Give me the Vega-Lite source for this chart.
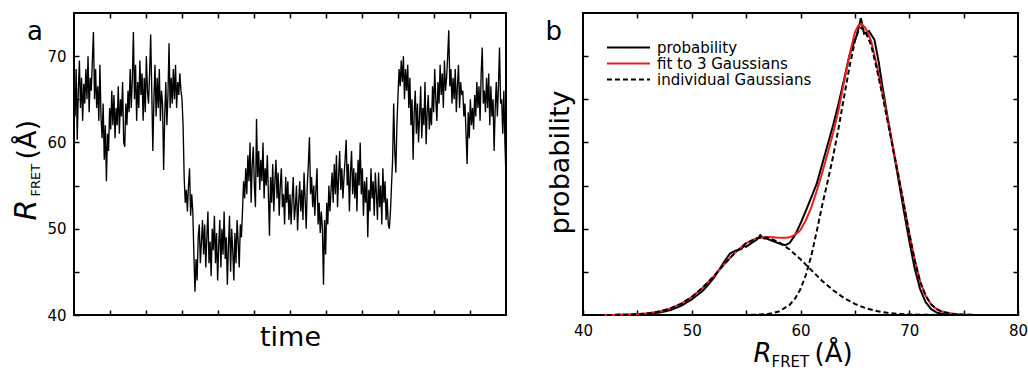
{
"$schema": "https://vega.github.io/schema/vega-lite/v6.json",
"padding": {"left": 10, "top": 11, "right": 0, "bottom": 0},
"bounds": "flush",
"spacing": 77,
"resolve": {"legend": {"color": "independent", "strokeDash": "independent"}},
"datasets": {
"trace": [
{"t":0,"r":65.5},{"t":3,"r":63},{"t":6,"r":68.5},{"t":9,"r":60.3},{"t":12,"r":66},{"t":15,"r":69.5},{"t":18,"r":64},{"t":21,"r":67.5},{"t":24,"r":62.5},{"t":27,"r":66.8},
{"t":30,"r":64.5},{"t":33,"r":68.5},{"t":36,"r":65},{"t":39,"r":70},{"t":42,"r":63.5},{"t":45,"r":67.5},{"t":48,"r":66},{"t":51,"r":69.5},{"t":54,"r":72.8},{"t":57,"r":65},
{"t":60,"r":68.5},{"t":63,"r":64},{"t":66,"r":66.5},{"t":69,"r":62.5},{"t":72,"r":69},{"t":75,"r":63},{"t":78,"r":60.5},{"t":81,"r":64.5},{"t":84,"r":58},{"t":87,"r":62},
{"t":90,"r":55.5},{"t":93,"r":61},{"t":96,"r":59},{"t":99,"r":64},{"t":102,"r":61.5},{"t":105,"r":66},{"t":108,"r":62},{"t":111,"r":65.5},{"t":114,"r":60.5},{"t":117,"r":64},
{"t":120,"r":62},{"t":123,"r":66.5},{"t":126,"r":61},{"t":129,"r":65},{"t":132,"r":63},{"t":135,"r":67},{"t":138,"r":60},{"t":141,"r":59.5},{"t":144,"r":64.5},{"t":147,"r":62},
{"t":150,"r":66},{"t":153,"r":63.5},{"t":156,"r":68.5},{"t":159,"r":64},{"t":162,"r":67.5},{"t":165,"r":72.8},{"t":168,"r":65},{"t":171,"r":69},{"t":174,"r":62.5},{"t":177,"r":67},
{"t":180,"r":64},{"t":183,"r":69.5},{"t":186,"r":65.5},{"t":189,"r":68},{"t":192,"r":62.5},{"t":195,"r":67.5},{"t":198,"r":63.5},{"t":201,"r":70},{"t":204,"r":66},{"t":207,"r":64.5},
{"t":210,"r":68},{"t":213,"r":72.5},{"t":216,"r":66},{"t":219,"r":59},{"t":222,"r":65},{"t":225,"r":69},{"t":228,"r":63},{"t":231,"r":67.5},{"t":234,"r":64},{"t":237,"r":68.5},
{"t":240,"r":62.5},{"t":243,"r":66},{"t":246,"r":64.5},{"t":249,"r":56.8},{"t":252,"r":63},{"t":255,"r":67},{"t":258,"r":62},{"t":261,"r":65.5},{"t":264,"r":71.5},{"t":267,"r":64},
{"t":270,"r":67.5},{"t":273,"r":64.5},{"t":276,"r":68.5},{"t":279,"r":65},{"t":282,"r":69},{"t":285,"r":64},{"t":288,"r":67},{"t":291,"r":65.5},{"t":294,"r":68},{"t":297,"r":66},
{"t":300,"r":65},{"t":303,"r":62},{"t":306,"r":56},{"t":309,"r":53},{"t":312,"r":54.5},{"t":315,"r":52},{"t":318,"r":55},{"t":321,"r":57},{"t":324,"r":51.5},{"t":327,"r":54},
{"t":330,"r":52},{"t":333,"r":47},{"t":336,"r":42.7},{"t":339,"r":46.5},{"t":342,"r":44},{"t":345,"r":49},{"t":348,"r":50.5},{"t":351,"r":46},{"t":354,"r":48.5},{"t":357,"r":51},
{"t":360,"r":47},{"t":363,"r":50.5},{"t":366,"r":45.5},{"t":369,"r":49},{"t":372,"r":52},{"t":375,"r":46},{"t":378,"r":48.5},{"t":381,"r":44.5},{"t":384,"r":50},{"t":387,"r":47.5},
{"t":390,"r":51.5},{"t":393,"r":46},{"t":396,"r":49.5},{"t":399,"r":44},{"t":402,"r":48},{"t":405,"r":51},{"t":408,"r":45.5},{"t":411,"r":50},{"t":414,"r":47},{"t":417,"r":52},
{"t":420,"r":46.5},{"t":423,"r":49},{"t":426,"r":43.5},{"t":429,"r":48},{"t":432,"r":51.5},{"t":435,"r":45},{"t":438,"r":50},{"t":441,"r":47.5},{"t":444,"r":44},{"t":447,"r":49.5},
{"t":450,"r":46},{"t":453,"r":51},{"t":456,"r":48.5},{"t":459,"r":45.5},{"t":462,"r":50.5},{"t":465,"r":49},{"t":468,"r":52},{"t":471,"r":55.5},{"t":474,"r":53.5},{"t":477,"r":57},
{"t":480,"r":54},{"t":483,"r":58.5},{"t":486,"r":55.5},{"t":489,"r":60},{"t":492,"r":53},{"t":495,"r":57.5},{"t":498,"r":59.5},{"t":501,"r":55},{"t":504,"r":52.5},{"t":507,"r":62.7},
{"t":510,"r":56},{"t":513,"r":59},{"t":516,"r":54.5},{"t":519,"r":58},{"t":522,"r":55.5},{"t":525,"r":60},{"t":528,"r":53.5},{"t":531,"r":57},{"t":534,"r":55},{"t":537,"r":58.5},
{"t":540,"r":54},{"t":543,"r":49.2},{"t":546,"r":56},{"t":549,"r":53},{"t":552,"r":57.5},{"t":555,"r":52},{"t":558,"r":55.5},{"t":561,"r":58},{"t":564,"r":53.5},{"t":567,"r":56.5},
{"t":570,"r":51.5},{"t":573,"r":55},{"t":576,"r":57},{"t":579,"r":52.5},{"t":582,"r":54},{"t":585,"r":50.5},{"t":588,"r":56},{"t":591,"r":53},{"t":594,"r":55.5},{"t":597,"r":51},
{"t":600,"r":54},{"t":603,"r":50.5},{"t":606,"r":53.5},{"t":609,"r":56},{"t":612,"r":51},{"t":615,"r":52.5},{"t":618,"r":55},{"t":621,"r":49.8},{"t":624,"r":53},{"t":627,"r":55.5},
{"t":630,"r":52},{"t":633,"r":54.5},{"t":636,"r":51},{"t":639,"r":56.5},{"t":642,"r":53.5},{"t":645,"r":50},{"t":648,"r":55},{"t":651,"r":57.5},{"t":654,"r":60.6},{"t":657,"r":54},
{"t":660,"r":56},{"t":663,"r":52.5},{"t":666,"r":55},{"t":669,"r":51.5},{"t":672,"r":54.5},{"t":675,"r":57},{"t":678,"r":50.5},{"t":681,"r":53},{"t":684,"r":49.5},{"t":687,"r":52},
{"t":690,"r":50},{"t":693,"r":43.5},{"t":696,"r":51},{"t":699,"r":47},{"t":702,"r":53},{"t":705,"r":50.5},{"t":708,"r":55},{"t":711,"r":52},{"t":714,"r":54.5},{"t":717,"r":56.5},
{"t":720,"r":53},{"t":723,"r":57.5},{"t":726,"r":54},{"t":729,"r":58.5},{"t":732,"r":52.5},{"t":735,"r":56},{"t":738,"r":59},{"t":741,"r":54.5},{"t":744,"r":57},{"t":747,"r":53.5},
{"t":750,"r":56},{"t":753,"r":58},{"t":756,"r":60.3},{"t":759,"r":55},{"t":762,"r":57.5},{"t":765,"r":52},{"t":768,"r":56.5},{"t":771,"r":59},{"t":774,"r":54},{"t":777,"r":57},
{"t":780,"r":53.5},{"t":783,"r":56.5},{"t":786,"r":52},{"t":789,"r":58},{"t":792,"r":55},{"t":795,"r":60},{"t":798,"r":54},{"t":801,"r":57},{"t":804,"r":51.5},{"t":807,"r":55.5},
{"t":810,"r":53},{"t":813,"r":56},{"t":816,"r":49},{"t":819,"r":54.5},{"t":822,"r":52},{"t":825,"r":57},{"t":828,"r":53.5},{"t":831,"r":55.5},{"t":834,"r":51.5},{"t":837,"r":56.5},
{"t":840,"r":54},{"t":843,"r":51},{"t":846,"r":56.5},{"t":849,"r":52.5},{"t":852,"r":55},{"t":855,"r":50.5},{"t":858,"r":57},{"t":861,"r":53},{"t":864,"r":55.5},{"t":867,"r":51},
{"t":870,"r":53.5},{"t":873,"r":50.5},{"t":876,"r":50},{"t":879,"r":52},{"t":882,"r":55},{"t":885,"r":58},{"t":888,"r":64.5},{"t":891,"r":59},{"t":894,"r":56.5},{"t":897,"r":62},
{"t":900,"r":65.5},{"t":903,"r":68.5},{"t":906,"r":66.5},{"t":909,"r":69.5},{"t":912,"r":67},{"t":915,"r":70},{"t":918,"r":65},{"t":921,"r":68.5},{"t":924,"r":66},{"t":927,"r":69},
{"t":930,"r":64},{"t":933,"r":67.5},{"t":936,"r":62},{"t":939,"r":65},{"t":942,"r":58},{"t":945,"r":63.5},{"t":948,"r":66},{"t":951,"r":61},{"t":954,"r":64.5},{"t":957,"r":60},
{"t":960,"r":63},{"t":963,"r":66.5},{"t":966,"r":60.5},{"t":969,"r":64},{"t":972,"r":62},{"t":975,"r":67},{"t":978,"r":59.8},{"t":981,"r":63.5},{"t":984,"r":65.5},{"t":987,"r":61.5},
{"t":990,"r":64},{"t":993,"r":62},{"t":996,"r":66.5},{"t":999,"r":63.5},{"t":1002,"r":68.5},{"t":1005,"r":65},{"t":1008,"r":62.5},{"t":1011,"r":67},{"t":1014,"r":64.5},{"t":1017,"r":69},
{"t":1020,"r":65.5},{"t":1023,"r":68},{"t":1026,"r":64},{"t":1029,"r":69.5},{"t":1032,"r":66},{"t":1035,"r":67.5},{"t":1038,"r":70},{"t":1041,"r":73},{"t":1044,"r":66.5},{"t":1047,"r":68.5},
{"t":1050,"r":64.5},{"t":1053,"r":67.5},{"t":1056,"r":65},{"t":1059,"r":68.5},{"t":1062,"r":63.5},{"t":1065,"r":66.5},{"t":1068,"r":69},{"t":1071,"r":64},{"t":1074,"r":67},{"t":1077,"r":65.5},
{"t":1080,"r":66},{"t":1083,"r":63},{"t":1086,"r":64.5},{"t":1089,"r":61},{"t":1092,"r":57.5},{"t":1095,"r":63.5},{"t":1098,"r":60.5},{"t":1101,"r":65},{"t":1104,"r":62},{"t":1107,"r":64},
{"t":1110,"r":61.5},{"t":1113,"r":65.5},{"t":1116,"r":63},{"t":1119,"r":67},{"t":1122,"r":64},{"t":1125,"r":66.5},{"t":1128,"r":62.5},{"t":1131,"r":68},{"t":1134,"r":71},{"t":1137,"r":64.5},
{"t":1140,"r":66},{"t":1143,"r":63.5},{"t":1146,"r":67.5},{"t":1149,"r":64},{"t":1152,"r":68},{"t":1155,"r":62},{"t":1158,"r":66.5},{"t":1161,"r":63},{"t":1164,"r":65},{"t":1167,"r":59},
{"t":1170,"r":64},{"t":1173,"r":67},{"t":1176,"r":63},{"t":1179,"r":66.5},{"t":1182,"r":71},{"t":1185,"r":64.5},{"t":1188,"r":65},{"t":1191,"r":61},{"t":1194,"r":66},{"t":1197,"r":60},{"t":1200,"r":56}
],
"prob": [
{"x":42,"p":0},{"x":44,"p":0.005},{"x":45,"p":0.012},{"x":46,"p":0.03},{"x":47,"p":0.055},{"x":48,"p":0.11},{"x":49,"p":0.21},{"x":50,"p":0.36},{"x":51,"p":0.56},{"x":51.5,"p":0.7},
{"x":52,"p":0.85},{"x":52.5,"p":1.04},{"x":53,"p":1.24},{"x":53.5,"p":1.42},{"x":54,"p":1.49},{"x":54.5,"p":1.52},{"x":54.8,"p":1.6},{"x":55,"p":1.58},{"x":55.5,"p":1.67},{"x":56,"p":1.75},
{"x":56.3,"p":1.85},{"x":56.6,"p":1.78},{"x":57,"p":1.76},{"x":57.5,"p":1.71},{"x":58,"p":1.66},{"x":58.6,"p":1.62},{"x":59,"p":1.67},{"x":59.5,"p":1.85},{"x":60,"p":2.12},{"x":60.5,"p":2.42},
{"x":61,"p":2.73},{"x":61.5,"p":3.05},{"x":62,"p":3.5},{"x":62.5,"p":3.95},{"x":63,"p":4.4},{"x":63.5,"p":4.9},{"x":64,"p":5.45},{"x":64.5,"p":6.02},{"x":64.9,"p":6.3},{"x":65.2,"p":6.5},
{"x":65.55,"p":6.88},{"x":65.85,"p":6.52},{"x":66.3,"p":6.58},{"x":66.8,"p":6.38},{"x":67.2,"p":5.85},{"x":67.5,"p":5.35},{"x":68,"p":4.6},{"x":68.5,"p":3.88},{"x":69,"p":3.15},{"x":69.5,"p":2.42},
{"x":70,"p":1.72},{"x":70.5,"p":1.08},{"x":71,"p":0.6},{"x":71.5,"p":0.3},{"x":72,"p":0.14},{"x":72.5,"p":0.06},{"x":73,"p":0.025},{"x":74,"p":0.005},{"x":75,"p":0}
],
"fit": [
{"x":42,"p":0},{"x":43,"p":0.003},{"x":44,"p":0.008},{"x":45,"p":0.018},{"x":46,"p":0.04},{"x":47,"p":0.079},{"x":48,"p":0.148},{"x":49,"p":0.257},{"x":50,"p":0.418},{"x":51,"p":0.632},
{"x":52,"p":0.893},{"x":53,"p":1.18},{"x":54,"p":1.45},{"x":55,"p":1.665},{"x":56,"p":1.785},{"x":57,"p":1.81},{"x":58,"p":1.79},{"x":58.5,"p":1.79},{"x":59,"p":1.8},{"x":59.5,"p":1.86},
{"x":60,"p":1.97},{"x":60.5,"p":2.2},{"x":61,"p":2.5},{"x":61.5,"p":2.88},{"x":62,"p":3.3},{"x":62.5,"p":3.75},{"x":63,"p":4.22},{"x":63.5,"p":4.75},{"x":64,"p":5.4},{"x":64.5,"p":6.02},
{"x":65,"p":6.55},{"x":65.3,"p":6.7},{"x":65.6,"p":6.75},{"x":66,"p":6.64},{"x":66.5,"p":6.35},{"x":67,"p":5.8},{"x":67.5,"p":5.2},{"x":68,"p":4.55},{"x":68.5,"p":3.9},{"x":69,"p":3.25},
{"x":69.5,"p":2.58},{"x":70,"p":1.9},{"x":70.5,"p":1.28},{"x":71,"p":0.78},{"x":71.5,"p":0.45},{"x":72,"p":0.25},{"x":72.5,"p":0.14},{"x":73,"p":0.08},{"x":74,"p":0.03},{"x":75,"p":0.01},{"x":76,"p":0}
],
"ind": [
{"g":"1","x":40,"p":0},{"g":"1","x":41,"p":0.0005},{"g":"1","x":42,"p":0.001},{"g":"1","x":43,"p":0.003},{"g":"1","x":44,"p":0.008},{"g":"1","x":45,"p":0.018},{"g":"1","x":46,"p":0.04},{"g":"1","x":47,"p":0.079},{"g":"1","x":48,"p":0.148},{"g":"1","x":49,"p":0.257},
{"g":"1","x":50,"p":0.418},{"g":"1","x":51,"p":0.632},{"g":"1","x":52,"p":0.893},{"g":"1","x":53,"p":1.18},{"g":"1","x":54,"p":1.45},{"g":"1","x":55,"p":1.665},{"g":"1","x":56,"p":1.78},{"g":"1","x":56.5,"p":1.8},{"g":"1","x":57,"p":1.79},{"g":"1","x":58,"p":1.69},
{"g":"1","x":59,"p":1.52},{"g":"1","x":60,"p":1.29},{"g":"1","x":61,"p":1.04},{"g":"1","x":62,"p":0.79},{"g":"1","x":63,"p":0.575},{"g":"1","x":64,"p":0.394},{"g":"1","x":65,"p":0.256},{"g":"1","x":66,"p":0.157},{"g":"1","x":67,"p":0.091},{"g":"1","x":68,"p":0.051},
{"g":"1","x":69,"p":0.026},{"g":"1","x":70,"p":0.013},{"g":"1","x":71,"p":0.006},{"g":"1","x":72,"p":0.003},{"g":"1","x":74,"p":0.001},{"g":"1","x":76,"p":0},{"g":"1","x":80,"p":0},
{"g":"2","x":40,"p":0},{"g":"2","x":50,"p":0},{"g":"2","x":54,"p":0.001},{"g":"2","x":55,"p":0.002},{"g":"2","x":56,"p":0.006},{"g":"2","x":57,"p":0.023},{"g":"2","x":58,"p":0.079},{"g":"2","x":59,"p":0.234},{"g":"2","x":59.5,"p":0.381},{"g":"2","x":60,"p":0.6},
{"g":"2","x":60.5,"p":0.93},{"g":"2","x":61,"p":1.38},{"g":"2","x":61.5,"p":1.95},{"g":"2","x":62,"p":2.55},{"g":"2","x":62.5,"p":3.1},{"g":"2","x":63,"p":3.68},{"g":"2","x":63.5,"p":4.33},{"g":"2","x":64,"p":5.05},{"g":"2","x":64.5,"p":5.75},{"g":"2","x":65,"p":6.35},
{"g":"2","x":65.3,"p":6.58},{"g":"2","x":65.6,"p":6.66},{"g":"2","x":66,"p":6.55},{"g":"2","x":66.5,"p":6.25},{"g":"2","x":67,"p":5.72},{"g":"2","x":67.5,"p":5.13},{"g":"2","x":68,"p":4.5},{"g":"2","x":68.5,"p":3.86},{"g":"2","x":69,"p":3.22},{"g":"2","x":69.5,"p":2.56},
{"g":"2","x":70,"p":1.89},{"g":"2","x":70.5,"p":1.27},{"g":"2","x":71,"p":0.77},{"g":"2","x":71.5,"p":0.45},{"g":"2","x":72,"p":0.25},{"g":"2","x":72.5,"p":0.14},{"g":"2","x":73,"p":0.075},{"g":"2","x":74,"p":0.025},{"g":"2","x":75,"p":0.008},{"g":"2","x":76,"p":0.002},{"g":"2","x":77,"p":0},{"g":"2","x":80,"p":0}
]
},
"hconcat": [
{
"width": 432, "height": 302,
"title": {"text": "a", "dx": -47, "dy": 37},
"resolve": {"axis": {"x": "independent", "y": "independent"}},
"layer": [
{"data": {"name": "trace"}, "mark": {"type": "line", "color": "black", "strokeWidth": 1.35},
 "encoding": {
  "x": {"field": "t", "type": "quantitative", "scale": {"domain": [0, 1200], "nice": false},
        "axis": {"orient": "bottom", "values": [100,200,300,400,500,600,700,800,900,1000,1100], "labels": false, "title": "time", "titleFontSize": 27, "titleAlign": "center", "titleBaseline": "alphabetic", "titleX": 216, "titleY": 30}},
  "y": {"field": "r", "type": "quantitative", "scale": {"domain": [40, 75], "nice": false, "zero": false},
        "axis": {"orient": "left", "values": [40,45,50,55,60,65,70], "labelExpr": "datum.value % 10 === 0 ? datum.label : ''", "labelPadding": 13, "title": "R", "titleFontSize": 30, "titleFontStyle": "italic", "titleAngle": 270, "titleAlign": "left", "titleBaseline": "alphabetic", "titleX": -39, "titleY": 207}}
 }},
{"data": {"name": "trace"}, "mark": {"type": "line", "opacity": 0},
 "encoding": {
  "x": {"field": "t", "type": "quantitative", "axis": {"orient": "top", "values": [100,200,300,400,500,600,700,800,900,1000,1100], "labels": false, "title": null}},
  "y": {"field": "r", "type": "quantitative", "axis": {"orient": "left", "labels": false, "ticks": false, "title": "FRET", "titleFontSize": 13, "titleAngle": 270, "titleAlign": "left", "titleBaseline": "alphabetic", "titleX": -35, "titleY": 183}}
 }},
{"data": {"name": "trace"}, "mark": {"type": "line", "opacity": 0},
 "encoding": {
  "x": {"field": "t", "type": "quantitative", "axis": null},
  "y": {"field": "r", "type": "quantitative", "axis": {"orient": "left", "labels": false, "ticks": false, "title": "(Å)", "titleFontSize": 27, "titleAngle": 270, "titleAlign": "left", "titleBaseline": "alphabetic", "titleX": -39, "titleY": 146}}
 }}
]
},
{
"width": 435, "height": 302,
"title": {"text": "b", "dx": -37.6, "dy": 36.7},
"resolve": {"axis": {"x": "independent", "y": "independent"}},
"layer": [
{"data": {"name": "prob"}, "mark": {"type": "line", "strokeWidth": 2},
 "encoding": {
  "x": {"field": "x", "type": "quantitative", "scale": {"domain": [40, 80], "nice": false},
        "axis": {"orient": "bottom", "values": [40,45,50,55,60,65,70,75,80], "labelExpr": "datum.value % 10 === 0 ? datum.label : ''", "labelPadding": 13, "title": "R", "titleFontSize": 26, "titleFontStyle": "italic", "titleAlign": "left", "titleBaseline": "alphabetic", "titleX": 170, "titleY": 46}},
  "y": {"field": "p", "type": "quantitative", "scale": {"domain": [0, 7], "nice": false},
        "axis": {"orient": "left", "values": [1,2,3,4,5,6], "labels": false, "title": "probability", "titleFontSize": 27, "titleAngle": 270, "titleAlign": "center", "titleBaseline": "alphabetic", "titleX": -15, "titleY": 149}},
  "color": {"datum": "probability", "scale": {"domain": ["probability", "fit to 3 Gaussians", "individual Gaussians"], "range": ["#000000", "#ee1c1c", "#000000"]}},
  "strokeDash": {"datum": "probability", "scale": {"domain": ["probability", "fit to 3 Gaussians", "individual Gaussians"], "range": [[1, 0], [1, 0], [5, 3]]}}
 }},
{"data": {"name": "fit"}, "mark": {"type": "line", "strokeWidth": 2},
 "encoding": {
  "x": {"field": "x", "type": "quantitative", "axis": null},
  "y": {"field": "p", "type": "quantitative", "axis": null},
  "color": {"datum": "fit to 3 Gaussians"},
  "strokeDash": {"datum": "fit to 3 Gaussians"}
 }},
{"data": {"name": "ind"}, "mark": {"type": "line", "strokeWidth": 2},
 "encoding": {
  "x": {"field": "x", "type": "quantitative", "axis": null},
  "y": {"field": "p", "type": "quantitative", "axis": null},
  "detail": {"field": "g"},
  "color": {"datum": "individual Gaussians"},
  "strokeDash": {"datum": "individual Gaussians"}
 }},
{"data": {"name": "prob"}, "mark": {"type": "line", "opacity": 0},
 "encoding": {
  "x": {"field": "x", "type": "quantitative", "axis": {"orient": "top", "values": [45,50,55,60,65,70,75], "labels": false, "title": null}},
  "y": {"field": "p", "type": "quantitative", "axis": {"orient": "right", "values": [1,2,3,4,5,6], "labels": false, "title": null}}
 }},
{"data": {"name": "prob"}, "mark": {"type": "line", "opacity": 0},
 "encoding": {
  "x": {"field": "x", "type": "quantitative", "axis": {"orient": "bottom", "labels": false, "ticks": false, "title": "FRET", "titleFontSize": 15, "titleAlign": "left", "titleBaseline": "alphabetic", "titleX": 188, "titleY": 51}},
  "y": {"field": "p", "type": "quantitative", "axis": null}
 }},
{"data": {"name": "prob"}, "mark": {"type": "line", "opacity": 0},
 "encoding": {
  "x": {"field": "x", "type": "quantitative", "axis": {"orient": "bottom", "labels": false, "ticks": false, "title": "(Å)", "titleFontSize": 26, "titleAlign": "left", "titleBaseline": "alphabetic", "titleX": 231, "titleY": 46}},
  "y": {"field": "p", "type": "quantitative", "axis": null}
 }}
]
}
],
"config": {
 "font": "DejaVu Sans",
 "view": {"stroke": "#000000", "strokeWidth": 2},
 "axis": {"grid": false, "domain": false, "tickColor": "#000000", "tickWidth": 1.5, "tickSize": -5, "labelColor": "#000000", "labelFontSize": 15, "labelFont": "DejaVu Sans", "labelFlush": false, "titleColor": "#000000", "titleFont": "DejaVu Sans", "titleFontWeight": "normal"},
 "title": {"fontSize": 26, "fontWeight": "normal", "font": "DejaVu Sans", "anchor": "start", "frame": "group", "baseline": "alphabetic", "offset": 0, "color": "#000000"},
 "legend": {"title": null, "orient": "none", "legendX": 38, "legendY": 27, "symbolType": "M-4,0H4", "symbolSize": 116, "symbolStrokeWidth": 2, "labelFontSize": 15, "labelFont": "DejaVu Sans", "labelColor": "#000000", "labelOffset": 21, "rowPadding": 0, "padding": 0}
}
}
